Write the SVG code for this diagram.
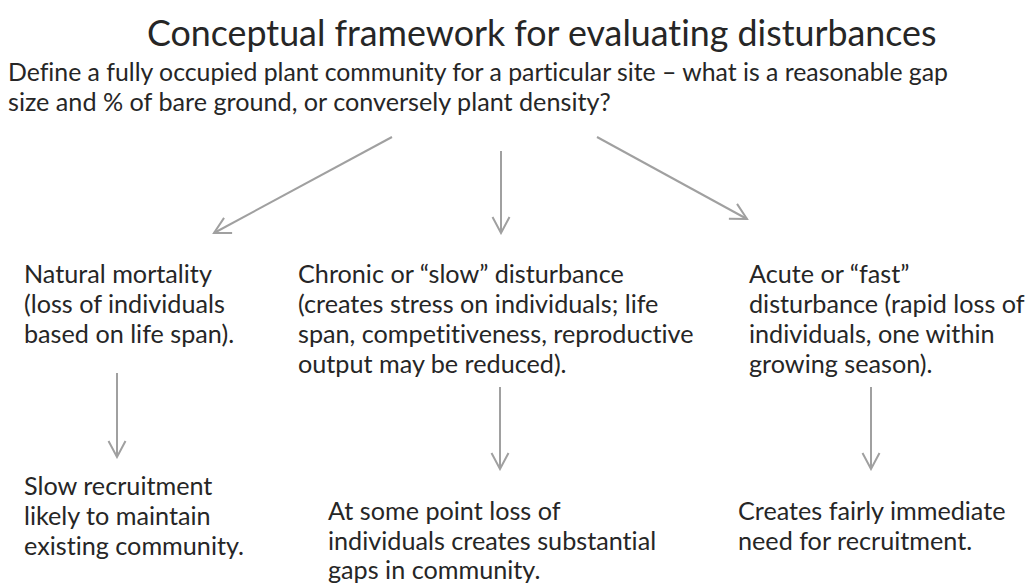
<svg xmlns="http://www.w3.org/2000/svg" width="1036" height="584" viewBox="0 0 1036 584">
<style>
text{font-family:Lato,"Open Sans","Liberation Sans",sans-serif;fill:#262626;font-size:25.2px;font-variant-ligatures:none}
.title{font-size:35.8px}
.conn line{stroke:#a0a0a0;stroke-width:2;fill:none}
</style>
<defs>
<marker id="ah" markerUnits="userSpaceOnUse" viewBox="-18 -10 20 20" refX="0" refY="0" markerWidth="20" markerHeight="20" orient="auto">
<path d="M-16,-8.5 L0,0 L-16,8.5" fill="none" stroke="#a0a0a0" stroke-width="2"/>
</marker>
</defs>
<rect width="1036" height="584" fill="#ffffff"/>
<g id="title"><text class="title" x="147" y="46">Conceptual framework for evaluating disturbances</text></g>
<g id="root">
<text x="8" y="81" textLength="940" lengthAdjust="spacingAndGlyphs">Define a fully occupied plant community for a particular site – what is a reasonable gap</text>
<text x="8" y="111">size and % of bare ground, or conversely plant density?</text>
</g>
<g id="natural">
<text x="24" y="283">Natural mortality</text>
<text x="24" y="313">(loss of individuals</text>
<text x="24" y="343">based on life span).</text>
</g>
<g id="chronic">
<text x="298" y="283">Chronic or “slow” disturbance</text>
<text x="298" y="313">(creates stress on individuals; life</text>
<text x="298" y="343">span, competitiveness, reproductive</text>
<text x="298" y="373">output may be reduced).</text>
</g>
<g id="acute">
<text x="749" y="283">Acute or “fast”</text>
<text x="749" y="313">disturbance (rapid loss of</text>
<text x="749" y="343">individuals, one within</text>
<text x="749" y="373">growing season).</text>
</g>
<g id="slow">
<text x="24" y="495">Slow recruitment</text>
<text x="24" y="525">likely to maintain</text>
<text x="24" y="555">existing community.</text>
</g>
<g id="gaps">
<text x="328" y="520">At some point loss of</text>
<text x="328" y="550">individuals creates substantial</text>
<text x="328" y="579">gaps in community.</text>
</g>
<g id="immediate">
<text x="738" y="520">Creates fairly immediate</text>
<text x="738" y="550">need for recruitment.</text>
</g>
<g id="connectors" class="conn">
<line x1="392" y1="137" x2="214" y2="233" marker-end="url(#ah)"/>
<line x1="501" y1="151" x2="501" y2="233" marker-end="url(#ah)"/>
<line x1="597" y1="137" x2="747" y2="219" marker-end="url(#ah)"/>
<line x1="117" y1="373" x2="117" y2="457" marker-end="url(#ah)"/>
<line x1="500" y1="387" x2="500" y2="469" marker-end="url(#ah)"/>
<line x1="871" y1="387" x2="871" y2="469" marker-end="url(#ah)"/>
</g>
</svg>
